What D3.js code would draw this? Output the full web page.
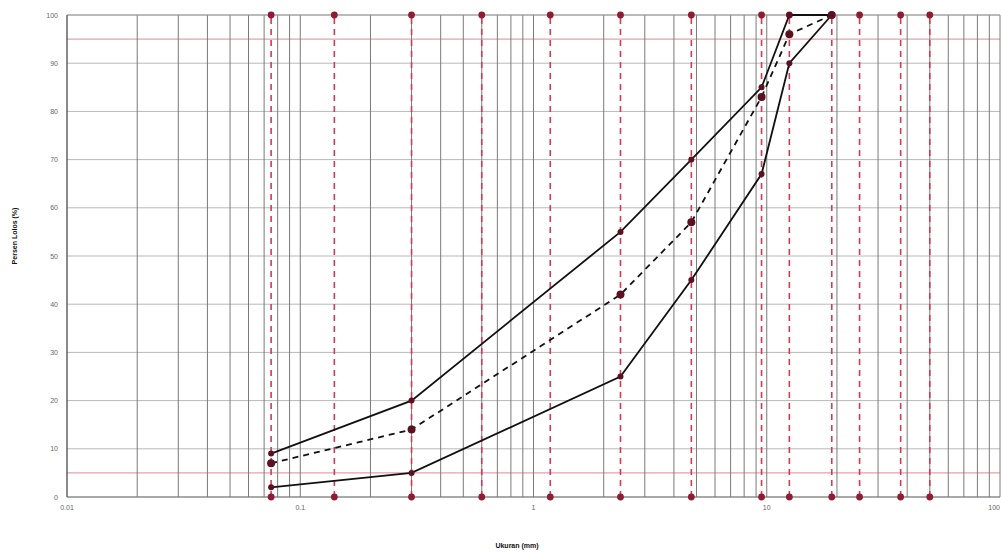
<!DOCTYPE html>
<html lang="id">
<head>
<meta charset="UTF-8">
<title>Gradasi Agregat</title>
<script src="https://d3js.org/d3.v7.min.js"></script>
<style>
    body { margin: 0; background: #fff; font-family: "Liberation Sans", Arial, sans-serif; }
    .tick-label { font-size: 7px; fill: #666; }
    .axis-title { font-size: 7px; fill: #111; font-weight: bold; }
</style>
</head>
<body>
<div id="chart"></div>
<script>
    // sieve sizes (mm) shown as red dashed lines
    const sieves = [0.075, 0.14, 0.3, 0.6, 1.18, 2.36, 4.75, 9.5, 12.5, 19, 25, 37.5, 50];

    // gradation curves
    const sizes = [0.075, 0.3, 2.36, 4.75, 9.5, 12.5, 19];
    const upperLimit = [9, 20, 55, 70, 85, 100, 100];
    const middle = [7, 14, 42, 57, 83, 96, 100];
    const lowerLimit = [2, 5, 25, 45, 67, 90, 100];

    const xTicks = [0.01, 0.1, 1, 10, 100];
    const yTicks = [0, 10, 20, 30, 40, 50, 60, 70, 80, 90, 100];
    const redLevels = [5, 95];

    const width = 1001, height = 552;

    const svg = d3.select("#chart").append("svg")
        .attr("width", width)
        .attr("height", height);

    const x = d3.scaleLog().domain([0.01, 100]).range([67, 1000]);
    const y = d3.scaleLinear().domain([0, 100]).range([497, 15]);

    // log minor grid
    const minor = [];
    [0.01, 0.1, 1, 10].forEach(d => {
        for (let k = 1; k <= 9; k++) minor.push(d * k);
    });
    minor.push(100);

    svg.append("g").selectAll("line")
        .data(yTicks)
        .enter().append("line")
        .attr("x1", x(0.01)).attr("x2", x(100))
        .attr("y1", d => y(d)).attr("y2", d => y(d))
        .attr("stroke", "#b8b8b8")
        .attr("stroke-width", 1);

    svg.append("g").selectAll("line")
        .data(redLevels)
        .enter().append("line")
        .attr("x1", x(0.01)).attr("x2", x(100))
        .attr("y1", d => y(d)).attr("y2", d => y(d))
        .attr("stroke", "#dc8a98")
        .attr("stroke-width", 1);

    svg.append("g").selectAll("line")
        .data(minor)
        .enter().append("line")
        .attr("x1", d => x(d)).attr("x2", d => x(d))
        .attr("y1", y(0)).attr("y2", y(100))
        .attr("stroke", "#7a7a7a")
        .attr("stroke-width", 1);

    // plot frame
    svg.append("line")
        .attr("x1", x(0.01)).attr("x2", x(100))
        .attr("y1", y(100)).attr("y2", y(100))
        .attr("stroke", "#999");
    svg.append("line")
        .attr("x1", x(0.01)).attr("x2", x(100))
        .attr("y1", y(0)).attr("y2", y(0))
        .attr("stroke", "#777");
    svg.append("line")
        .attr("x1", x(0.01)).attr("x2", x(0.01))
        .attr("y1", y(0)).attr("y2", y(100))
        .attr("stroke", "#555");

    // sieve lines
    const sieveG = svg.append("g");
    sieveG.selectAll("line")
        .data(sieves)
        .enter().append("line")
        .attr("x1", d => x(d)).attr("x2", d => x(d))
        .attr("y1", y(0)).attr("y2", y(100))
        .attr("stroke", "#d23a55")
        .attr("stroke-width", 1.6)
        .attr("stroke-dasharray", "6,5");
    sieveG.selectAll("circle.top")
        .data(sieves)
        .enter().append("circle")
        .attr("class", "top")
        .attr("cx", d => x(d)).attr("cy", y(100))
        .attr("r", 3.4)
        .attr("fill", "#8e1d33");
    sieveG.selectAll("circle.bottom")
        .data(sieves)
        .enter().append("circle")
        .attr("class", "bottom")
        .attr("cx", d => x(d)).attr("cy", y(0))
        .attr("r", 3.4)
        .attr("fill", "#8e1d33");

    // curves
    const line = d3.line()
        .x(d => x(d[0]))
        .y(d => y(d[1]));

    const series = [
        { values: upperLimit, dash: null, r: 3 },
        { values: lowerLimit, dash: null, r: 3 },
        { values: middle, dash: "6,5", r: 4 }
    ];

    series.forEach(s => {
        const pts = sizes.map((d, i) => [d, s.values[i]]);
        svg.append("path")
            .datum(pts)
            .attr("d", line)
            .attr("fill", "none")
            .attr("stroke", "#111")
            .attr("stroke-width", 1.8)
            .attr("stroke-dasharray", s.dash);
        svg.append("g").selectAll("circle")
            .data(pts)
            .enter().append("circle")
            .attr("cx", d => x(d[0]))
            .attr("cy", d => y(d[1]))
            .attr("r", s.r)
            .attr("fill", "#5a1220");
    });

    // tick labels
    svg.append("g").selectAll("text")
        .data(yTicks)
        .enter().append("text")
        .attr("class", "tick-label")
        .attr("x", 58)
        .attr("y", d => y(d) + 2.5)
        .attr("text-anchor", "end")
        .text(d => d);

    svg.append("g").selectAll("text")
        .data(xTicks)
        .enter().append("text")
        .attr("class", "tick-label")
        .attr("x", d => x(d))
        .attr("y", 510)
        .attr("text-anchor", d => d === 100 ? "end" : "middle")
        .text(d => d);

    svg.append("text")
        .attr("class", "axis-title")
        .attr("x", 517)
        .attr("y", 548)
        .attr("text-anchor", "middle")
        .text("Ukuran (mm)");

    svg.append("text")
        .attr("class", "axis-title")
        .attr("transform", "translate(17,236) rotate(-90)")
        .attr("text-anchor", "middle")
        .text("Persen Lolos (%)");
</script>
</body>
</html>
